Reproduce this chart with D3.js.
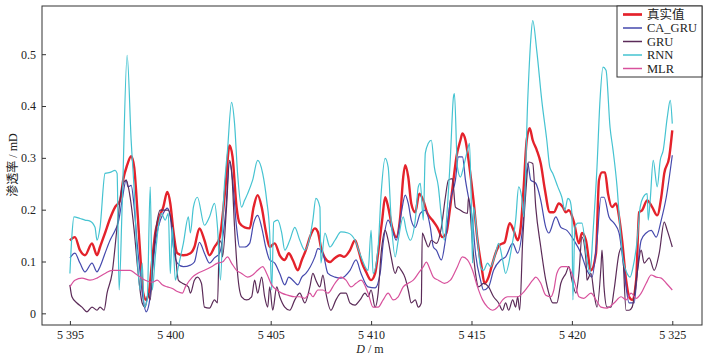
<html>
<head>
<meta charset="utf-8">
<title>渗透率预测对比</title>
<script type="text/javascript" src="https://d3js.org/d3.v7.min.js"></script>
<style>
  body { margin: 0; background: #fff; }
  text { font-family: "Liberation Serif", "Noto Sans CJK SC", serif; fill: #222; }
</style>
</head>
<body>
<script type="text/javascript">
  var width = 710;
  var height = 355;

  // depth (m) and permeability (mD)
  var trueDepth = [5395.00,5395.25,5395.50,5395.75,5396.10,5396.35,5396.50,5396.75,5397.00,5397.25,5397.50,5397.65,5397.85,5398.05,5398.20,5398.35,5398.50,5398.65,5398.80,5398.95,5399.10,5399.25,5399.40,5399.65,5399.85,5400.00,5400.15,5400.35,5400.65,5401.00,5401.20,5401.45,5401.70,5401.95,5402.20,5402.45,5402.75,5402.95,5403.10,5403.30,5403.45,5403.70,5403.95,5404.15,5404.35,5404.55,5404.75,5404.95,5405.20,5405.45,5405.70,5405.90,5406.10,5406.35,5406.55,5406.75,5406.95,5407.20,5407.35,5407.50,5407.70,5407.95,5408.20,5408.45,5408.65,5408.95,5409.20,5409.35,5409.55,5409.75,5410.00,5410.20,5410.35,5410.55,5410.70,5410.85,5411.05,5411.25,5411.45,5411.60,5411.70,5411.85,5412.00,5412.20,5412.40,5412.60,5412.80,5413.05,5413.30,5413.55,5413.75,5413.90,5414.10,5414.25,5414.45,5414.55,5414.70,5414.90,5415.10,5415.30,5415.50,5415.65,5415.85,5416.00,5416.20,5416.40,5416.65,5416.90,5417.10,5417.30,5417.45,5417.60,5417.75,5417.90,5418.05,5418.25,5418.45,5418.65,5418.90,5419.10,5419.35,5419.55,5419.70,5419.85,5420.10,5420.35,5420.50,5420.70,5420.95,5421.20,5421.35,5421.50,5421.65,5421.80,5422.00,5422.20,5422.35,5422.50,5422.70,5422.85,5423.00,5423.20,5423.35,5423.50,5423.75,5424.00,5424.25,5424.45,5424.60,5424.85,5425.00];
  var trueVal = [0.141,0.147,0.122,0.112,0.135,0.112,0.128,0.155,0.183,0.205,0.218,0.257,0.286,0.303,0.282,0.205,0.116,0.039,0.026,0.045,0.103,0.155,0.180,0.205,0.234,0.212,0.160,0.116,0.112,0.116,0.128,0.164,0.141,0.112,0.128,0.145,0.244,0.324,0.302,0.205,0.174,0.166,0.164,0.205,0.228,0.205,0.160,0.128,0.135,0.112,0.103,0.116,0.103,0.083,0.103,0.122,0.147,0.164,0.157,0.128,0.107,0.099,0.107,0.112,0.109,0.122,0.141,0.125,0.097,0.080,0.064,0.077,0.116,0.180,0.224,0.205,0.166,0.147,0.186,0.263,0.286,0.263,0.212,0.195,0.231,0.218,0.193,0.180,0.166,0.147,0.155,0.193,0.257,0.302,0.334,0.347,0.334,0.282,0.218,0.141,0.090,0.058,0.070,0.090,0.116,0.132,0.137,0.174,0.160,0.141,0.166,0.244,0.334,0.357,0.334,0.315,0.289,0.240,0.195,0.195,0.212,0.205,0.195,0.199,0.176,0.135,0.155,0.141,0.083,0.116,0.257,0.272,0.272,0.231,0.205,0.212,0.186,0.141,0.064,0.032,0.026,0.064,0.195,0.199,0.218,0.205,0.189,0.224,0.270,0.302,0.353];

  var caGruDepth = [5395.00,5395.25,5395.50,5395.75,5396.10,5396.35,5396.50,5396.75,5397.00,5397.25,5397.40,5397.60,5397.80,5397.90,5398.05,5398.20,5398.35,5398.50,5398.65,5398.80,5398.95,5399.10,5399.25,5399.40,5399.65,5399.85,5400.00,5400.15,5400.35,5400.65,5401.00,5401.20,5401.45,5401.70,5401.95,5402.20,5402.45,5402.75,5402.95,5403.10,5403.30,5403.45,5403.70,5403.95,5404.15,5404.35,5404.55,5404.75,5404.95,5405.20,5405.45,5405.70,5405.90,5406.10,5406.35,5406.55,5406.75,5407.20,5407.35,5407.60,5407.85,5408.20,5408.50,5408.95,5409.25,5409.50,5409.85,5410.20,5410.45,5410.60,5410.85,5411.10,5411.25,5411.50,5411.70,5411.85,5412.00,5412.20,5412.45,5412.70,5412.95,5413.10,5413.25,5413.50,5413.70,5413.95,5414.20,5414.35,5414.55,5414.70,5414.85,5415.05,5415.20,5415.45,5415.60,5415.85,5416.10,5416.45,5416.70,5417.05,5417.30,5417.55,5417.80,5417.95,5418.20,5418.45,5418.70,5418.85,5419.20,5419.45,5419.75,5420.10,5420.45,5420.75,5421.00,5421.25,5421.45,5421.60,5421.85,5422.10,5422.35,5422.60,5422.85,5423.10,5423.25,5423.45,5423.70,5423.95,5424.20,5424.45,5424.70,5425.00];
  var caGruVal = [0.107,0.116,0.097,0.080,0.097,0.080,0.090,0.116,0.141,0.160,0.174,0.218,0.257,0.244,0.247,0.205,0.135,0.077,0.026,0.003,0.020,0.077,0.135,0.166,0.193,0.203,0.186,0.128,0.097,0.090,0.093,0.099,0.137,0.116,0.097,0.107,0.116,0.193,0.292,0.257,0.166,0.128,0.128,0.135,0.174,0.189,0.166,0.128,0.103,0.097,0.077,0.055,0.070,0.064,0.055,0.070,0.077,0.109,0.125,0.116,0.077,0.070,0.068,0.083,0.103,0.077,0.051,0.049,0.077,0.135,0.180,0.155,0.141,0.193,0.228,0.212,0.180,0.166,0.193,0.199,0.166,0.128,0.122,0.103,0.141,0.218,0.257,0.302,0.302,0.257,0.224,0.180,0.116,0.064,0.045,0.051,0.083,0.103,0.109,0.135,0.116,0.166,0.290,0.257,0.251,0.218,0.166,0.155,0.186,0.166,0.160,0.141,0.116,0.083,0.070,0.141,0.224,0.224,0.186,0.174,0.155,0.083,0.020,0.020,0.077,0.141,0.155,0.160,0.147,0.180,0.224,0.305];

  var gruDepth = [5395.00,5395.10,5395.35,5395.60,5395.85,5396.10,5396.35,5396.50,5396.70,5396.85,5397.10,5397.35,5397.60,5397.80,5398.00,5398.20,5398.40,5398.60,5398.75,5398.90,5399.00,5399.15,5399.30,5399.50,5399.75,5399.90,5400.10,5400.25,5400.40,5400.60,5400.90,5401.00,5401.20,5401.35,5401.55,5401.70,5401.95,5402.20,5402.35,5402.45,5402.55,5402.60,5402.80,5402.95,5403.05,5403.20,5403.35,5403.55,5403.80,5404.05,5404.20,5404.35,5404.55,5404.70,5404.85,5404.95,5405.10,5405.30,5405.45,5405.70,5405.95,5406.20,5406.45,5406.70,5406.95,5407.10,5407.25,5407.45,5407.60,5407.75,5408.00,5408.25,5408.50,5408.75,5408.95,5409.20,5409.45,5409.70,5409.85,5410.00,5410.20,5410.35,5410.50,5410.70,5410.85,5411.00,5411.20,5411.35,5411.50,5411.70,5411.85,5412.00,5412.20,5412.35,5412.50,5412.55,5412.70,5412.85,5413.00,5413.25,5413.50,5413.70,5413.85,5414.05,5414.20,5414.45,5414.60,5414.80,5414.85,5415.05,5415.20,5415.35,5415.60,5415.85,5416.10,5416.35,5416.55,5416.70,5416.85,5417.05,5417.20,5417.30,5417.40,5417.55,5417.70,5417.85,5418.05,5418.20,5418.45,5418.70,5418.85,5419.05,5419.25,5419.45,5419.70,5419.85,5420.00,5420.20,5420.35,5420.50,5420.70,5420.75,5420.95,5421.10,5421.25,5421.45,5421.50,5421.60,5421.75,5421.95,5422.10,5422.35,5422.50,5422.70,5422.85,5423.00,5423.25,5423.45,5423.60,5423.85,5424.10,5424.35,5424.60,5424.75,5425.00];
  var gruVal = [0.055,0.032,0.020,0.012,0.003,0.012,0.006,0.012,0.006,0.039,0.077,0.166,0.244,0.257,0.224,0.160,0.077,0.020,0.012,0.039,0.026,0.109,0.166,0.199,0.199,0.199,0.166,0.116,0.064,0.058,0.051,0.039,0.064,0.070,0.058,0.012,0.010,0.026,0.020,0.141,0.135,0.109,0.205,0.295,0.276,0.166,0.077,0.032,0.026,0.032,0.064,0.039,0.070,0.032,0.012,0.051,0.006,0.051,0.032,0.012,0.006,0.026,0.039,0.020,0.051,0.077,0.064,0.051,0.074,0.039,0.006,0.026,0.039,0.039,0.020,0.016,0.026,0.039,0.032,0.045,0.012,0.039,0.116,0.160,0.141,0.109,0.077,0.090,0.083,0.068,0.045,0.020,0.026,0.012,0.020,0.155,0.141,0.128,0.141,0.135,0.166,0.224,0.257,0.260,0.205,0.199,0.195,0.193,0.224,0.135,0.077,0.051,0.058,0.051,0.032,0.020,0.006,0.020,0.006,0.026,0.012,0.032,0.006,0.141,0.231,0.292,0.289,0.205,0.128,0.064,0.039,0.020,0.020,0.058,0.077,0.090,0.064,0.039,0.077,0.147,0.103,0.064,0.077,0.039,0.012,0.090,0.122,0.051,0.012,0.012,0.045,0.116,0.128,0.006,0.006,0.012,0.077,0.122,0.097,0.107,0.083,0.116,0.176,0.160,0.128];

  var rnnDepth = [5395.00,5395.10,5395.20,5395.50,5395.75,5396.00,5396.25,5396.35,5396.50,5396.75,5397.00,5397.25,5397.35,5397.45,5397.60,5397.85,5398.05,5398.20,5398.35,5398.50,5398.60,5398.70,5398.85,5399.00,5399.10,5399.25,5399.40,5399.55,5399.75,5399.90,5400.00,5400.10,5400.25,5400.40,5400.65,5400.90,5401.00,5401.15,5401.35,5401.70,5401.95,5402.20,5402.35,5402.50,5402.65,5402.85,5403.05,5403.20,5403.35,5403.55,5403.70,5403.85,5404.10,5404.35,5404.60,5404.80,5404.95,5405.05,5405.15,5405.35,5405.55,5405.70,5405.95,5406.20,5406.45,5406.70,5406.95,5407.10,5407.25,5407.45,5407.50,5407.70,5407.95,5408.20,5408.50,5408.85,5409.20,5409.50,5409.85,5410.00,5410.10,5410.35,5410.50,5410.70,5410.85,5411.00,5411.20,5411.35,5411.60,5411.75,5411.95,5412.20,5412.35,5412.45,5412.60,5412.70,5412.85,5413.00,5413.15,5413.35,5413.50,5413.65,5413.80,5413.95,5414.10,5414.15,5414.30,5414.45,5414.60,5414.80,5414.90,5415.00,5415.05,5415.10,5415.30,5415.45,5415.60,5415.80,5415.95,5416.20,5416.35,5416.55,5416.70,5416.95,5417.20,5417.35,5417.50,5417.60,5417.80,5417.95,5418.05,5418.25,5418.50,5418.75,5418.90,5419.05,5419.30,5419.50,5419.65,5419.80,5419.90,5420.00,5420.05,5420.15,5420.30,5420.50,5420.75,5420.90,5421.05,5421.25,5421.40,5421.55,5421.70,5421.90,5422.05,5422.25,5422.40,5422.55,5422.75,5422.90,5423.05,5423.25,5423.40,5423.55,5423.75,5423.80,5423.90,5424.05,5424.25,5424.40,5424.55,5424.75,5424.90,5425.00];
  var rnnVal = [0.077,0.150,0.186,0.183,0.180,0.178,0.166,0.141,0.166,0.270,0.272,0.276,0.270,0.045,0.205,0.498,0.334,0.237,0.109,0.045,0.097,0.012,0.026,0.244,0.045,0.109,0.166,0.193,0.180,0.193,0.077,0.166,0.064,0.090,0.135,0.186,0.155,0.205,0.224,0.170,0.186,0.212,0.166,0.064,0.218,0.315,0.407,0.366,0.270,0.205,0.218,0.231,0.257,0.295,0.270,0.218,0.155,0.045,0.176,0.180,0.155,0.122,0.141,0.166,0.141,0.122,0.147,0.180,0.222,0.205,0.097,0.155,0.128,0.141,0.157,0.155,0.141,0.109,0.083,0.160,0.077,0.128,0.231,0.299,0.282,0.180,0.109,0.141,0.186,0.160,0.141,0.180,0.244,0.251,0.180,0.309,0.328,0.334,0.282,0.244,0.186,0.141,0.205,0.302,0.417,0.424,0.282,0.263,0.282,0.315,0.328,0.193,0.097,0.205,0.141,0.090,0.083,0.097,0.090,0.116,0.135,0.103,0.077,0.116,0.180,0.244,0.224,0.186,0.411,0.527,0.565,0.507,0.411,0.334,0.282,0.270,0.244,0.224,0.199,0.222,0.218,0.193,0.026,0.166,0.174,0.174,0.103,0.077,0.155,0.282,0.411,0.475,0.469,0.359,0.315,0.244,0.166,0.103,0.077,0.070,0.090,0.141,0.205,0.224,0.231,0.180,0.218,0.295,0.244,0.295,0.315,0.378,0.411,0.366];

  var mlrDepth = [5395.00,5395.25,5395.60,5396.00,5396.35,5396.75,5397.10,5397.60,5398.00,5398.25,5398.50,5398.75,5399.10,5399.35,5399.60,5399.85,5400.10,5400.35,5400.60,5400.75,5401.10,5401.35,5401.70,5402.05,5402.35,5402.60,5402.85,5403.05,5403.30,5403.55,5403.85,5404.10,5404.35,5404.60,5404.80,5405.05,5405.30,5405.55,5405.85,5406.20,5406.45,5406.70,5406.95,5407.10,5407.35,5407.60,5407.85,5408.20,5408.50,5408.75,5409.00,5409.25,5409.50,5409.85,5410.10,5410.35,5410.60,5410.85,5411.10,5411.35,5411.60,5411.85,5412.10,5412.35,5412.60,5412.75,5412.95,5413.10,5413.35,5413.65,5413.95,5414.30,5414.55,5414.80,5415.05,5415.30,5415.55,5415.80,5416.05,5416.30,5416.55,5416.80,5417.05,5417.30,5417.55,5417.80,5418.05,5418.20,5418.45,5418.70,5418.95,5419.10,5419.25,5419.50,5419.75,5420.00,5420.20,5420.35,5420.60,5420.95,5421.20,5421.45,5421.75,5422.10,5422.45,5422.70,5422.95,5423.20,5423.45,5423.70,5423.95,5424.20,5424.45,5424.70,5425.00];
  var mlrVal = [0.051,0.064,0.068,0.064,0.068,0.077,0.083,0.083,0.083,0.077,0.070,0.064,0.060,0.064,0.055,0.051,0.048,0.042,0.039,0.051,0.070,0.077,0.083,0.090,0.097,0.099,0.109,0.097,0.083,0.077,0.070,0.074,0.083,0.090,0.077,0.055,0.045,0.039,0.035,0.032,0.032,0.029,0.039,0.032,0.045,0.045,0.039,0.058,0.070,0.064,0.051,0.058,0.064,0.039,0.012,0.012,0.026,0.039,0.026,0.032,0.051,0.058,0.064,0.077,0.090,0.099,0.083,0.070,0.064,0.058,0.064,0.090,0.109,0.103,0.083,0.051,0.026,0.012,0.006,0.012,0.026,0.032,0.032,0.032,0.039,0.051,0.064,0.070,0.058,0.035,0.032,0.045,0.077,0.090,0.090,0.077,0.051,0.032,0.029,0.039,0.026,0.012,0.010,0.020,0.032,0.026,0.039,0.029,0.039,0.058,0.074,0.070,0.068,0.058,0.045];

  var seriesNames = ["真实值", "CA_GRU", "GRU", "RNN", "MLR"];
  var seriesColors = ["#e4222b", "#4549ad", "#5b2b58", "#45c3d1", "#d8519c"];
  var seriesWidths = [2.4, 1.2, 1.2, 1.2, 1.2];
  var xTicks = [5395, 5400, 5405, 5410, 5415, 5420, 5425];
  var xTickLabels = ["5 395", "5 400", "5 405", "5 410", "5 415", "5 420", "5 325"];
  var yTicks = [0, 0.1, 0.2, 0.3, 0.4, 0.5];

  var series = [
    {depth: trueDepth, val: trueVal},
    {depth: caGruDepth, val: caGruVal},
    {depth: gruDepth, val: gruVal},
    {depth: rnnDepth, val: rnnVal},
    {depth: mlrDepth, val: mlrVal}
  ];

  var plotLeft = 42, plotRight = 702, plotTop = 6, plotBottom = 325;

  var xScale = d3.scaleLinear().domain([5393.61, 5426.48]).range([plotLeft, plotRight]);
  var yScale = d3.scaleLinear().domain([-0.0225, 0.593]).range([plotBottom, plotTop]);

  var svg = d3.select("body")
              .append("svg")
              .attr("width", width)
              .attr("height", height);

  svg.append("clipPath").attr("id", "plotclip")
     .append("rect")
     .attr("x", plotLeft).attr("y", plotTop)
     .attr("width", plotRight - plotLeft).attr("height", plotBottom - plotTop);

  var line = d3.line()
               .x(function(d){ return xScale(d[0]); })
               .y(function(d){ return yScale(d[1]); })
               .curve(d3.curveMonotoneX);

  var lines = svg.append("g").attr("clip-path", "url(#plotclip)");
  series.forEach(function(s, i){
    var pts = s.depth.map(function(d, j){ return [d, s.val[j]]; });
    lines.append("path")
         .attr("d", line(pts))
         .attr("fill", "none")
         .attr("stroke", seriesColors[i])
         .attr("stroke-width", seriesWidths[i])
         .attr("stroke-linejoin", "round");
  });

  // axes with inward ticks
  var xAxis = d3.axisBottom(xScale)
                .tickValues(xTicks)
                .tickSize(-4)
                .tickPadding(5)
                .tickFormat(function(d, i){ return xTickLabels[i]; });
  var gx = svg.append("g").attr("transform", "translate(0," + plotBottom + ")").call(xAxis);

  var yAxis = d3.axisLeft(yScale)
                .tickValues(yTicks)
                .tickSize(-4)
                .tickPadding(6)
                .tickFormat(function(d){ return d === 0 ? "0" : d3.format(".1f")(d); });
  var gy = svg.append("g").attr("transform", "translate(" + plotLeft + ",0)").call(yAxis);

  [gx, gy].forEach(function(g){
    g.select(".domain").remove();
    g.selectAll(".tick line").attr("stroke", "#333");
    g.selectAll(".tick text").style("font-size", "12px").attr("fill", "#222");
  });

  svg.append("rect")
     .attr("x", plotLeft).attr("y", plotTop)
     .attr("width", plotRight - plotLeft).attr("height", plotBottom - plotTop)
     .attr("fill", "none")
     .attr("stroke", "#333")
     .attr("stroke-width", 1);

  // axis titles
  var xt = svg.append("text")
              .attr("x", (plotLeft + plotRight) / 2 - 2)
              .attr("y", 353)
              .attr("text-anchor", "middle")
              .style("font-size", "12px");
  xt.append("tspan").style("font-style", "italic").text("D");
  xt.append("tspan").text(" / m");

  svg.append("text")
     .attr("transform", "translate(17,165) rotate(-90)")
     .attr("text-anchor", "middle")
     .style("font-size", "12px")
     .text("渗透率 / mD");

  // legend
  var lg = svg.append("g");
  lg.append("rect")
    .attr("x", 617).attr("y", plotTop)
    .attr("width", plotRight - 617).attr("height", 71)
    .attr("fill", "#fff")
    .attr("stroke", "#333")
    .attr("stroke-width", 1);
  seriesNames.forEach(function(name, i){
    var yy = 14.5 + i * 13.5;
    lg.append("line")
      .attr("x1", 623).attr("x2", 642)
      .attr("y1", yy).attr("y2", yy)
      .attr("stroke", seriesColors[i])
      .attr("stroke-width", seriesWidths[i] + 0.3);
    lg.append("text")
      .attr("x", 647).attr("y", yy)
      .attr("dy", "0.35em")
      .style("font-size", "12.5px")
      .text(name);
  });
</script>
</body>
</html>
